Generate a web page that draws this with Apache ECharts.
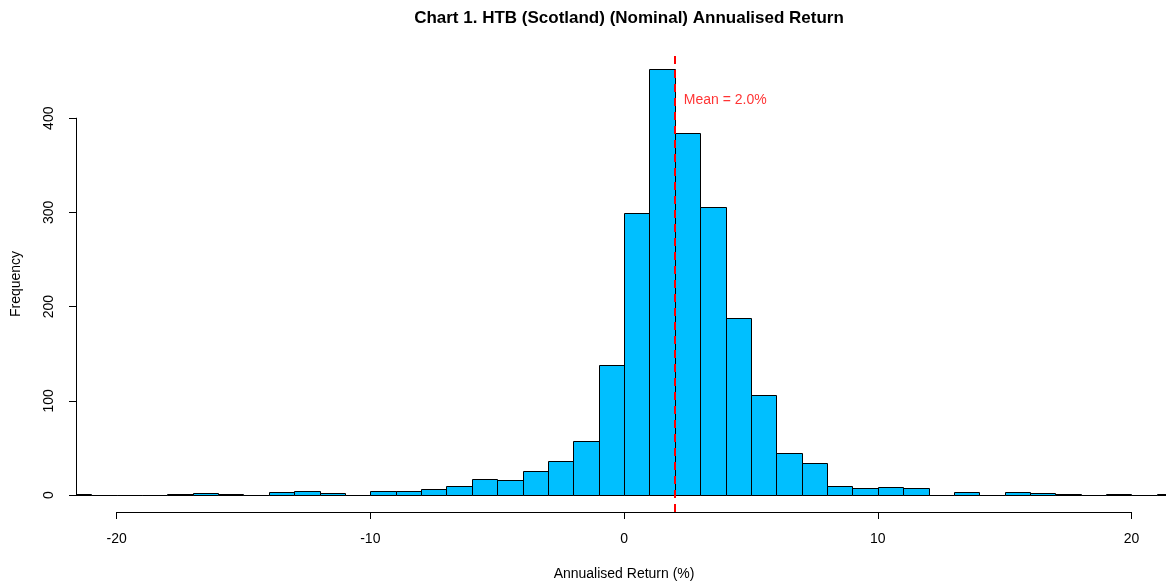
<!DOCTYPE html>
<html>
<head>
<meta charset="utf-8">
<script src="https://cdn.jsdelivr.net/npm/echarts@6/dist/echarts.min.js"></script>
<style>
  html, body { margin: 0; padding: 0; background: #fff; }
  #chart { width: 1166px; height: 584px; }
</style>
</head>
<body>
<div id="chart"></div>
<script>
// histogram bins, width 1
const binStarts = [-22, -21, -20, -19, -18, -17, -16, -15, -14, -13, -12, -11, -10, -9, -8, -7, -6, -5, -4, -3, -2, -1,
  0, 1, 2, 3, 4, 5, 6, 7, 8, 9, 10, 11, 12, 13, 14, 15, 16, 17, 18, 19, 20, 21];
const binWidth = 1;
const counts = [1, 0, 0, 0, 1, 2, 1, 0, 3, 4, 2, 0, 4, 4, 6, 10, 17, 16, 25, 36, 57, 138,
  299, 452, 384, 306, 188, 106, 45, 34, 10, 8, 9, 7, 0, 3, 0, 3, 2, 1, 0, 1, 0, 1];
const meanValue = 2.0;
const meanLabelY = 419;
const xTicks = [-20, 20];
const yTicks = [0, 400];

const font = 'Liberation Sans, Arial, sans-serif';
const histData = binStarts.map((s, i) => [s, s + binWidth, counts[i]]);

function renderBar(params, api) {
  const top = api.coord([api.value(0), api.value(2)]);
  const bot = api.coord([api.value(1), 0]);
  const x0 = Math.round(top[0]) + 0.5, x1 = Math.round(bot[0]) + 0.5;
  const y0 = Math.round(top[1]) + 0.5, y1 = Math.round(bot[1]) + 0.5;
  return {
    type: 'rect',
    shape: { x: x0, y: y0, width: x1 - x0, height: y1 - y0 },
    style: { fill: '#00BFFF', stroke: '#000', lineWidth: 1 }
  };
}

const chart = echarts.init(document.getElementById('chart'));

const option = {
  animation: false,
  title: {
    text: 'Chart 1. HTB (Scotland) (Nominal) Annualised Return',
    left: 624,
    textAlign: 'center',
    top: 5,
    textStyle: { fontFamily: font, fontSize: 17, fontWeight: 'bold', color: '#000' }
  },
  grid: [
    { left: 76, top: 56, width: 1090, height: 456 },          // plot region
    { left: 76, top: 118.2, width: 10, height: 376.8 },       // y axis 0..400
    { left: 116.6, top: 500, width: 1014.9, height: 12 }      // x axis -20..20
  ],
  xAxis: [
    { gridIndex: 0, type: 'value', min: -21.6, max: 21.36, show: false },
    { gridIndex: 1, type: 'value', show: false },
    {
      gridIndex: 2, type: 'value', min: xTicks[0], max: xTicks[1], interval: 10,
      position: 'bottom',
      name: 'Annualised Return (%)', nameLocation: 'middle', nameGap: 55,
      nameTextStyle: { fontFamily: font, fontSize: 14, color: '#000' },
      axisLine: { show: true, lineStyle: { color: '#000', width: 1 } },
      axisTick: { show: true, length: 7, lineStyle: { color: '#000' } },
      axisLabel: { fontFamily: font, fontSize: 14, color: '#000', margin: 20 },
      splitLine: { show: false }
    }
  ],
  yAxis: [
    {
      gridIndex: 0, type: 'value', min: -18, max: 466,
      name: 'Frequency', nameLocation: 'middle', nameGap: 53,
      nameTextStyle: { fontFamily: font, fontSize: 14, color: '#000' },
      axisLine: { show: false }, axisTick: { show: false },
      axisLabel: { show: false }, splitLine: { show: false }
    },
    {
      gridIndex: 1, type: 'value', min: yTicks[0], max: yTicks[1], interval: 100,
      position: 'left',
      axisLine: { show: true, lineStyle: { color: '#000', width: 1 } },
      axisTick: { show: true, length: 7, lineStyle: { color: '#000' } },
      axisLabel: { fontFamily: font, fontSize: 14, color: '#000', margin: 20, rotate: 90 },
      splitLine: { show: false }
    },
    { gridIndex: 2, type: 'value', show: false }
  ],
  series: [
    {
      type: 'custom',
      xAxisIndex: 0, yAxisIndex: 0,
      clip: true,
      renderItem: renderBar,
      encode: { x: [0, 1], y: 2 },
      data: histData,
      markLine: {
        silent: true,
        symbol: 'none',
        label: { show: false },
        lineStyle: { color: '#FF0000', type: [8, 6], width: 2 },
        data: [{ xAxis: meanValue }]
      }
    },
    {
      type: 'scatter',
      xAxisIndex: 0, yAxisIndex: 0,
      symbolSize: 0,
      data: [[meanValue, meanLabelY]],
      label: {
        show: true, position: 'right', distance: 9,
        formatter: 'Mean = ' + meanValue.toFixed(1) + '%',
        fontFamily: font, fontSize: 14, color: '#FF0000'
      }
    }
  ]
};

chart.setOption(option);
</script>
</body>
</html>
